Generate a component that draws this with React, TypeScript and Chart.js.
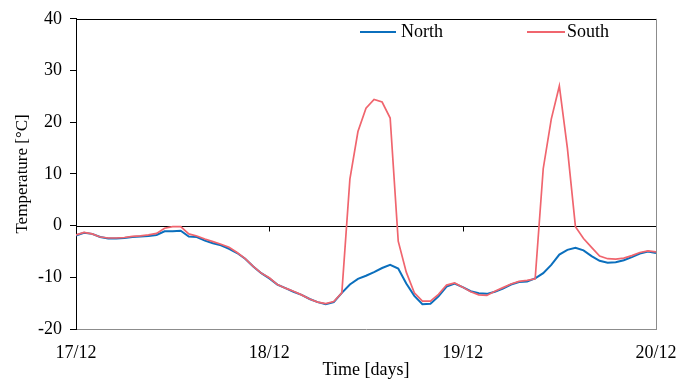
import React, { useEffect, useRef } from 'react';
import { Chart, registerables } from 'chart.js';

Chart.register(...registerables);

// Time axis: hourly samples from 17/12 00:00 to 20/12 00:00
const xTickLabels = ['17/12', '18/12', '19/12', '20/12'];
const seriesNames = ['North', 'South'];

const north = [
  -1.9, -1.4, -1.6, -2.2, -2.5, -2.5, -2.4, -2.2, -2.1, -2.0,
  -1.8, -1.1, -1.1, -1.0, -2.1, -2.2, -2.9, -3.4, -3.8, -4.5,
  -5.3, -6.4, -7.9, -9.2, -10.2, -11.4, -12.1, -12.8, -13.4, -14.2,
  -14.8, -15.2, -14.8, -13.0, -11.4, -10.3, -9.7, -9.0, -8.2, -7.6,
  -8.3, -11.2, -13.6, -15.2, -15.1, -13.7, -11.8, -11.2, -11.9, -12.7,
  -13.1, -13.2, -12.8, -12.2, -11.4, -10.9, -10.8, -10.2, -9.2, -7.6,
  -5.6, -4.7, -4.3, -4.8, -5.9, -6.8, -7.2, -7.1, -6.7, -6.1,
  -5.4, -5.0, -5.3,
];

const south = [
  -1.8, -1.3, -1.6, -2.2, -2.4, -2.4, -2.3, -2.1, -2.0, -1.8,
  -1.5, -0.5, -0.2, -0.2, -1.6, -2.0, -2.6, -3.1, -3.6, -4.2,
  -5.2, -6.4, -7.9, -9.2, -10.1, -11.4, -12.1, -12.7, -13.4, -14.2,
  -14.8, -15.1, -14.7, -13.0, 9.0, 18.2, 22.7, 24.4, 23.9, 20.8,
  -3.0, -9.0, -13.0, -14.6, -14.6, -13.3, -11.5, -11.1, -11.9, -12.8,
  -13.4, -13.5, -12.7, -12.0, -11.3, -10.8, -10.6, -10.3, 11.0, 20.6,
  27.0, 15.0, -0.2, -2.5, -4.2, -5.9, -6.4, -6.5, -6.3, -5.8,
  -5.2, -4.9, -5.1,
];

const BLUE = '#0b6fbd';
const RED = '#f0656e';
const SERIF = "'Liberation Serif', 'Times New Roman', serif";

const framePlugin = {
  id: 'frame',
  beforeDatasetsDraw(chart: any) {
    const { ctx, chartArea } = chart;
    const x = chart.scales.x;
    const y = chart.scales.y;
    const y0 = Math.round(y.getPixelForValue(0)) + 0.5;
    ctx.save();
    ctx.strokeStyle = '#000';
    ctx.lineWidth = 1;
    ctx.beginPath();
    ctx.moveTo(chartArea.left, y0);
    ctx.lineTo(chartArea.right, y0);
    [24, 48].forEach((v) => {
      const px = Math.round(x.getPixelForValue(v)) + 0.5;
      ctx.moveTo(px, y0);
      ctx.lineTo(px, y0 + 5);
    });
    ctx.stroke();
    ctx.restore();
  },
  afterDraw(chart: any) {
    const { ctx, chartArea } = chart;
    ctx.save();
    ctx.lineWidth = 1;
    ctx.strokeStyle = '#000';
    ctx.beginPath();
    ctx.moveTo(chartArea.left, Math.round(chartArea.top) + 0.5);
    ctx.lineTo(chartArea.right, Math.round(chartArea.top) + 0.5);
    ctx.stroke();
    ctx.strokeStyle = '#8c8c8c';
    ctx.beginPath();
    ctx.moveTo(Math.round(chartArea.right) + 0.5, chartArea.top);
    ctx.lineTo(Math.round(chartArea.right) + 0.5, chartArea.bottom);
    ctx.stroke();

    // legend
    const items = [
      { x0: 360, x1: 396, tx: 401 },
      { x0: 527, x1: 565, tx: 567 },
    ];
    ctx.font = `18px ${SERIF}`;
    ctx.textBaseline = 'middle';
    ctx.textAlign = 'left';
    chart.data.datasets.forEach((ds: any, i: number) => {
      const it = items[i];
      ctx.strokeStyle = ds.borderColor;
      ctx.lineWidth = 2;
      ctx.beginPath();
      ctx.moveTo(it.x0, 32);
      ctx.lineTo(it.x1, 32);
      ctx.stroke();
      ctx.fillStyle = '#000';
      ctx.fillText(ds.label, it.tx, 32);
    });
    ctx.restore();
  },
};

export default function App() {
  const ref = useRef<HTMLCanvasElement>(null);

  useEffect(() => {
    if (!ref.current) return;
    const chart = new Chart(ref.current, {
      type: 'line',
      data: {
        datasets: [
          {
            label: seriesNames[0],
            data: north.map((v, i) => ({ x: i, y: v })),
            borderColor: BLUE,
            borderWidth: 2,
            pointRadius: 0,
            tension: 0,
            order: 2,
          },
          {
            label: seriesNames[1],
            data: south.map((v, i) => ({ x: i, y: v })),
            borderColor: RED,
            borderWidth: 1.7,
            pointRadius: 0,
            tension: 0,
            order: 1,
          },
        ],
      },
      options: {
        responsive: false,
        animation: false,
        layout: { padding: { left: 0, right: 22, top: 14, bottom: 0 } },
        plugins: {
          legend: { display: false },
          tooltip: { enabled: false },
        },
        scales: {
          x: {
            type: 'linear',
            min: 0,
            max: 72,
            ticks: {
              stepSize: 24,
              autoSkip: false,
              maxRotation: 0,
              color: '#000',
              padding: 5,
              font: { family: SERIF, size: 18 },
              callback: (v: any) => xTickLabels[Math.round(Number(v) / 24)] ?? '',
            },
            grid: { display: false },
            border: { display: true, color: '#8c8c8c', width: 1 },
            title: {
              display: true,
              text: 'Time [days]',
              color: '#000',
              font: { family: SERIF, size: 18 },
              padding: { top: 0, bottom: 2 },
            },
            afterFit: (s: any) => {
              s.height = 54;
              s.paddingLeft = 0;
              s.paddingRight = 0;
            },
          },
          y: {
            min: -20,
            max: 40,
            ticks: {
              stepSize: 10,
              color: '#000',
              padding: 8,
              font: { family: SERIF, size: 18 },
            },
            grid: {
              drawOnChartArea: false,
              drawTicks: true,
              tickLength: 6,
              color: '#000',
            },
            border: { display: true, color: '#000', width: 1 },
            title: {
              display: true,
              text: 'Temperature [°C]',
              color: '#000',
              font: { family: SERIF, size: 17 },
              padding: { top: 12, bottom: 0 },
            },
            afterFit: (s: any) => {
              s.width = 76;
            },
          },
        },
      },
      plugins: [framePlugin],
    });
    return () => chart.destroy();
  }, []);

  return (
    <div style={{ position: 'fixed', left: 0, top: 0, width: 678, height: 383, background: '#fff' }}>
      <canvas ref={ref} width={678} height={383} style={{ width: 678, height: 383 }} />
    </div>
  );
}
